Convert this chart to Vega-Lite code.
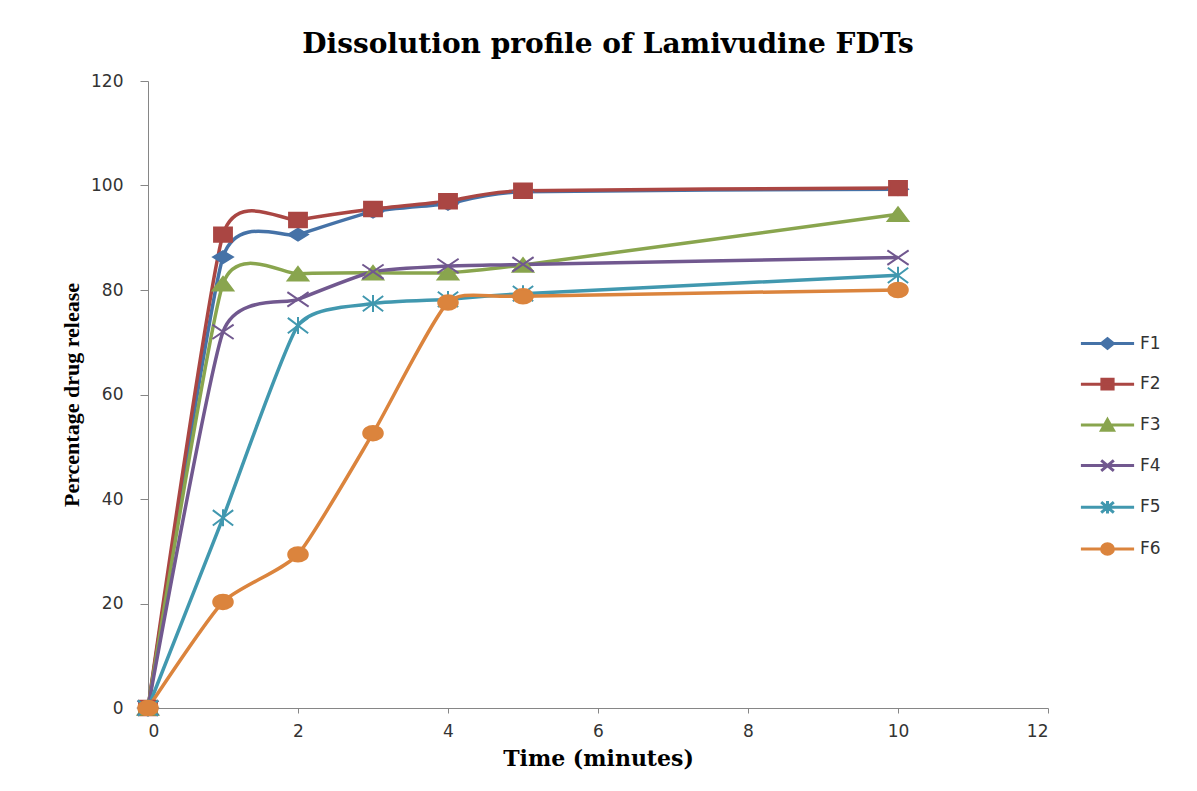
{
  "$schema": "https://vega.github.io/schema/vega-lite/v6.json",
  "width": 900,
  "height": 627,
  "autosize": {"type": "none"},
  "padding": {"left": 148, "top": 81, "right": 149, "bottom": 83},
  "background": "white",
  "config": {
    "view": {"stroke": null},
    "axis": {"grid": false, "domainColor": "#868686", "tickColor": "#868686", "labelFont": "DejaVu Sans", "labelFontSize": 17, "labelColor": "#333333", "titleColor": "#000000"}
  },
  "title": {
    "text": "Dissolution profile of Lamivudine FDTs",
    "font": "DejaVu Serif",
    "fontSize": 28,
    "fontWeight": "bold",
    "color": "#000000",
    "anchor": "middle",
    "frame": "group",
    "dx": 10,
    "offset": 13
  },
  "data": {
    "values": [
      {"t": 0, "v": 0, "series": "F1"},
      {"t": 1, "v": 86.3, "series": "F1"},
      {"t": 2, "v": 90.6, "series": "F1"},
      {"t": 3, "v": 95.0, "series": "F1"},
      {"t": 4, "v": 96.5, "series": "F1"},
      {"t": 5, "v": 98.8, "series": "F1"},
      {"t": 10, "v": 99.3, "series": "F1"},
      {"t": 0, "v": 0, "series": "F2"},
      {"t": 1, "v": 90.6, "series": "F2"},
      {"t": 2, "v": 93.4, "series": "F2"},
      {"t": 3, "v": 95.5, "series": "F2"},
      {"t": 4, "v": 97.0, "series": "F2"},
      {"t": 5, "v": 99.0, "series": "F2"},
      {"t": 10, "v": 99.5, "series": "F2"},
      {"t": 0, "v": 0, "series": "F3"},
      {"t": 1, "v": 81.2, "series": "F3"},
      {"t": 2, "v": 83.1, "series": "F3"},
      {"t": 3, "v": 83.3, "series": "F3"},
      {"t": 4, "v": 83.3, "series": "F3"},
      {"t": 5, "v": 84.8, "series": "F3"},
      {"t": 10, "v": 94.5, "series": "F3"},
      {"t": 0, "v": 0, "series": "F4"},
      {"t": 1, "v": 72.0, "series": "F4"},
      {"t": 2, "v": 78.2, "series": "F4"},
      {"t": 3, "v": 83.5, "series": "F4"},
      {"t": 4, "v": 84.6, "series": "F4"},
      {"t": 5, "v": 84.9, "series": "F4"},
      {"t": 10, "v": 86.2, "series": "F4"},
      {"t": 0, "v": 0, "series": "F5"},
      {"t": 1, "v": 36.4, "series": "F5"},
      {"t": 2, "v": 73.2, "series": "F5"},
      {"t": 3, "v": 77.4, "series": "F5"},
      {"t": 4, "v": 78.2, "series": "F5"},
      {"t": 5, "v": 79.3, "series": "F5"},
      {"t": 10, "v": 82.8, "series": "F5"},
      {"t": 0, "v": 0, "series": "F6"},
      {"t": 1, "v": 20.3, "series": "F6"},
      {"t": 2, "v": 29.4, "series": "F6"},
      {"t": 3, "v": 52.6, "series": "F6"},
      {"t": 4, "v": 77.6, "series": "F6"},
      {"t": 5, "v": 78.8, "series": "F6"},
      {"t": 10, "v": 80.0, "series": "F6"}
    ]
  },
  "encoding": {
    "x": {
      "field": "t", "type": "quantitative",
      "scale": {"domain": [0, 12], "nice": false, "zero": false},
      "axis": {"values": [0, 2, 4, 6, 8, 10, 12], "tickSize": 5, "labelPadding": 10, "title": "Time (minutes)", "titleFont": "DejaVu Serif", "titleFontSize": 22, "titleFontWeight": "bold", "titlePadding": 9}
    },
    "y": {
      "field": "v", "type": "quantitative",
      "scale": {"domain": [0, 120], "nice": false},
      "axis": {"values": [0, 20, 40, 60, 80, 100, 120], "tickSize": 8, "labelPadding": 17, "title": "Percentage drug release", "titleFont": "Liberation Serif", "titleFontSize": 22, "titleFontWeight": "bold", "titlePadding": 7}
    }
  },
  "resolve": {"scale": {"color": "independent", "stroke": "independent", "shape": "independent"}},
  "layer": [
    {
      "mark": {"type": "line", "interpolate": "cardinal", "tension": 0.45, "strokeWidth": 3.5},
      "encoding": {
        "color": {
          "field": "series", "type": "nominal",
          "scale": {"domain": ["F1", "F2", "F3", "F4", "F5", "F6"], "range": ["#4572A7", "#AA4643", "#89A54E", "#71588F", "#4198AF", "#DB843D"]},
          "legend": null
        }
      }
    },
    {
      "mark": {"type": "point", "filled": true, "size": 289, "strokeWidth": 2, "opacity": 1},
      "encoding": {
        "color": {
          "field": "series", "type": "nominal",
          "scale": {"domain": ["F1", "F2", "F3", "F4", "F5", "F6"], "range": ["#4572A7", "#AA4643", "#89A54E", "#71588F", "#4198AF", "#DB843D"]},
          "legend": null
        },
        "stroke": {
          "field": "series", "type": "nominal",
          "scale": {"domain": ["F1", "F2", "F3", "F4", "F5", "F6"], "range": ["#4572A7", "#AA4643", "#89A54E", "#71588F", "#4198AF", "#DB843D"]},
          "legend": null
        },
        "shape": {
          "field": "series", "type": "nominal",
          "scale": {
            "domain": ["F1", "F2", "F3", "F4", "F5", "F6"],
            "range": [
              "M-1.15,0L0,-0.7L1.15,0L0,0.7Z",
              "M-1.05,-0.85L1.05,-0.85L1.05,0.85L-1.05,0.85Z",
              "M0,-0.8L1.2,0.8L-1.2,0.8Z",
              "M-1.25,-0.85L1.25,0.85M-1.25,0.85L1.25,-0.85",
              "M-1.2,-0.9L1.2,0.9M-1.2,0.9L1.2,-0.9M0,-1L0,1",
              "M-1.15,0A1.15,0.85,0,1,1,1.15,0A1.15,0.85,0,1,1,-1.15,0Z"
            ]
          },
          "legend": null
        }
      }
    },
    {
      "transform": [{"filter": "datum.t < 0"}],
      "mark": {"type": "point", "filled": true, "size": 196, "strokeWidth": 3, "opacity": 1},
      "encoding": {
        "color": {
          "field": "series", "type": "nominal",
          "scale": {"domain": ["F1", "F2", "F3", "F4", "F5", "F6"], "range": ["#4572A7", "#AA4643", "#89A54E", "#71588F", "#4198AF", "#DB843D"]}
        },
        "stroke": {
          "field": "series", "type": "nominal",
          "scale": {"domain": ["F1", "F2", "F3", "F4", "F5", "F6"], "range": ["#4572A7", "#AA4643", "#89A54E", "#71588F", "#4198AF", "#DB843D"]}
        },
        "shape": {
          "field": "series", "type": "nominal",
          "scale": {
            "domain": ["F1", "F2", "F3", "F4", "F5", "F6"],
            "range": [
              "M-3.8,0L3.8,0M-0.85,0L0,-0.7L0.85,0L0,0.7Z",
              "M-3.8,0L3.8,0M-0.8,-0.7L0.8,-0.7L0.8,0.7L-0.8,0.7Z",
              "M-3.8,0L3.8,0M0,-0.75L0.85,0.75L-0.85,0.75Z",
              "M-3.8,0L3.8,0M-0.9,-0.75L0.9,0.75M-0.9,0.75L0.9,-0.75",
              "M-3.8,0L3.8,0M-0.9,-0.75L0.9,0.75M-0.9,0.75L0.9,-0.75M0,-0.9L0,0.9",
              "M-3.8,0L3.8,0M-0.85,0A0.85,0.75,0,1,1,0.85,0A0.85,0.75,0,1,1,-0.85,0Z"
            ]
          },
          "legend": {
            "title": null,
            "orient": "none",
            "legendX": 951,
            "legendY": 254,
            "padding": 0,
            "symbolSize": 196,
            "symbolStrokeWidth": 3,
            "symbolOpacity": 1,
            "labelFont": "DejaVu Sans",
            "labelFontSize": 17,
            "labelColor": "#333333",
            "labelOffset": 24,
            "rowPadding": 17.7
          }
        }
      }
    }
  ]
}
